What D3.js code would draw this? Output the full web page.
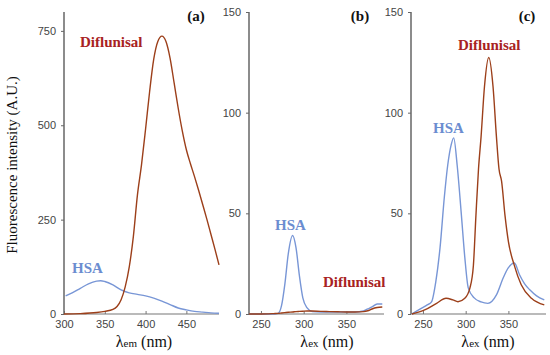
<!DOCTYPE html>
<html>
<head>
<meta charset="utf-8">
<script src="https://cdn.jsdelivr.net/npm/d3@7"></script>
<style>
  body { margin: 0; background: #fff; }
  .tick text { font-family: "Liberation Sans", Arial, sans-serif; font-size: 11px; fill: #444; }
  .lbl { font-family: "Liberation Serif", "DejaVu Serif", serif; }
</style>
</head>
<body>
<script>
// panel (a): emission spectra
var emWl     = [300,320,340,350,360,365,370,375,380,385,390,395,400,405,410,415,420,425,430,435,440,445,450,455,460,465,470,475,480,485,490];
var emDiflun = [0,1,4,7,12,20,38,72,125,205,315,395,490,590,675,722,736,722,678,612,545,485,435,398,364,328,290,252,212,172,130];
var emHsaWl  = [302,310,320,330,340,345,350,360,370,380,390,400,410,420,430,440,450,460,470,480,490];
var emHsa    = [48,56,68,80,87,88,86,77,64,56,52,48,42,34,25,16,11,7,5,3,2];

// panel (b): excitation spectra
var exWlB      = [236,250,265,270,274,278,282,287,291,295,299,304,310,320,330,340,350,360,370,375,380,386,392];
var exHsaB     = [0,0,0,0.3,4,15,30,39,33,19,8,3,1.2,1,1,1,1,1,1.5,2.5,3.5,5,5];
var exDiflunB  = [0,0,0.2,0.3,0.5,0.7,0.9,1,1.2,1.3,1.4,1.5,1.5,1.3,1.2,1.1,1,1,1.2,1.6,2.5,3.2,3.5];

// panel (c): excitation spectra
var exWlC      = [237,248,255,260,265,270,275,279,283,286,290,295,299,303,310,318,326,336,344,350,357,363,369,375,383,392];
var exHsaC     = [0,2.8,4.5,6,16,33,58,74,84,87.5,74,49,28,13,8,6,5.3,9.5,18,23,25.3,19.5,15,12,9,7];
var exDfWlC    = [237,252,266,277,285,291,299,305,309,312,315,318,322,327,332,336,339,342,346,350,357,365,377,392];
var exDiflunC  = [0,2,5.3,7.8,7,6.1,7.8,13,24,49,72,88,113,127.4,113,88,72,66,49,36,24,14.5,7.8,4.5];

var blue = "#7896d6", brown = "#9c3f1a", red = "#a82222", hsaText = "#6b8dd0";

var svg = d3.select("body").append("svg")
    .attr("width", 550).attr("height", 355);

var y0 = 314;
var panels = [
  {x0: 64,  x1: 219, xDom: [300, 490], yDom: [0, 800], yTicks: [0,250,500,750], xTicks: [300,350,400,450], sub: "em", letter: "(a)", lx: 196, labX: 144,
   series: [{wl: emHsaWl, v: emHsa, c: blue}, {wl: emWl, v: emDiflun, c: brown}],
   notes: [{t: "Diflunisal", x: 80, y: 47, c: red}, {t: "HSA", x: 72, y: 273, c: hsaText}]},
  {x0: 249, x1: 384, xDom: [236, 394], yDom: [0, 150], yTicks: [0,50,100,150], xTicks: [250,300,350], sub: "ex", letter: "(b)", lx: 360, labX: 327,
   series: [{wl: exWlB, v: exHsaB, c: blue}, {wl: exWlB, v: exDiflunB, c: brown}],
   notes: [{t: "HSA", x: 275, y: 230, c: hsaText}, {t: "Diflunisal", x: 323, y: 287, c: red}]},
  {x0: 411, x1: 546, xDom: [236, 394], yDom: [0, 150], yTicks: [0,50,100,150], xTicks: [250,300,350], sub: "ex", letter: "(c)", lx: 527, labX: 488,
   series: [{wl: exWlC, v: exHsaC, c: blue}, {wl: exDfWlC, v: exDiflunC, c: brown}],
   notes: [{t: "HSA", x: 433, y: 133, c: hsaText}, {t: "Diflunisal", x: 458, y: 50, c: red}]}
];

panels.forEach(function(p) {
  var x = d3.scaleLinear().domain(p.xDom).range([p.x0, p.x1]);
  var y = d3.scaleLinear().domain(p.yDom).range([y0, 12]);

  var gx = svg.append("g").attr("transform", "translate(0," + y0 + ")")
      .call(d3.axisBottom(x).tickValues(p.xTicks).tickSize(-3).tickPadding(6).tickFormat(d3.format("d")));
  gx.select(".domain").remove();
  gx.append("line").attr("x1", p.x0).attr("x2", p.x1).attr("stroke", "#777").attr("stroke-width", 1.2);
  gx.selectAll(".tick line").attr("stroke", "#777");

  var gy = svg.append("g").attr("transform", "translate(" + p.x0 + ",0)")
      .call(d3.axisLeft(y).tickValues(p.yTicks).tickSize(3).tickPadding(5));
  gy.select(".domain").remove();
  gy.append("line").attr("y1", y0).attr("y2", 12).attr("stroke", "#666").attr("stroke-width", 1.5);
  gy.selectAll(".tick line").attr("stroke", "#666");

  var line = d3.line().curve(d3.curveMonotoneX)
      .x(function(d) { return x(d[0]); })
      .y(function(d) { return y(d[1]); });

  p.series.forEach(function(s) {
    svg.append("path")
        .datum(d3.zip(s.wl, s.v))
        .attr("fill", "none")
        .attr("stroke", s.c)
        .attr("stroke-width", 1.4)
        .attr("d", line);
  });

  p.notes.forEach(function(n) {
    svg.append("text").attr("class", "lbl")
        .attr("x", n.x).attr("y", n.y)
        .attr("font-size", 15).attr("font-weight", "bold")
        .attr("fill", n.c).text(n.t);
  });

  svg.append("text").attr("class", "lbl")
      .attr("x", p.lx).attr("y", 21).attr("text-anchor", "middle")
      .attr("font-size", 15).attr("font-weight", "bold").attr("fill", "#111")
      .text(p.letter);

  var xl = svg.append("text").attr("class", "lbl")
      .attr("x", p.labX).attr("y", 347).attr("text-anchor", "middle")
      .attr("font-size", 16).attr("fill", "#111");
  xl.append("tspan").text("λ");
  xl.append("tspan").attr("font-size", 11).text(p.sub);
  xl.append("tspan").text(" (nm)");
});

svg.append("text").attr("class", "lbl")
    .attr("transform", "translate(17,165) rotate(-90)")
    .attr("text-anchor", "middle")
    .attr("font-size", 15).attr("fill", "#111")
    .text("Fluorescence intensity (A.U.)");
</script>
</body>
</html>
